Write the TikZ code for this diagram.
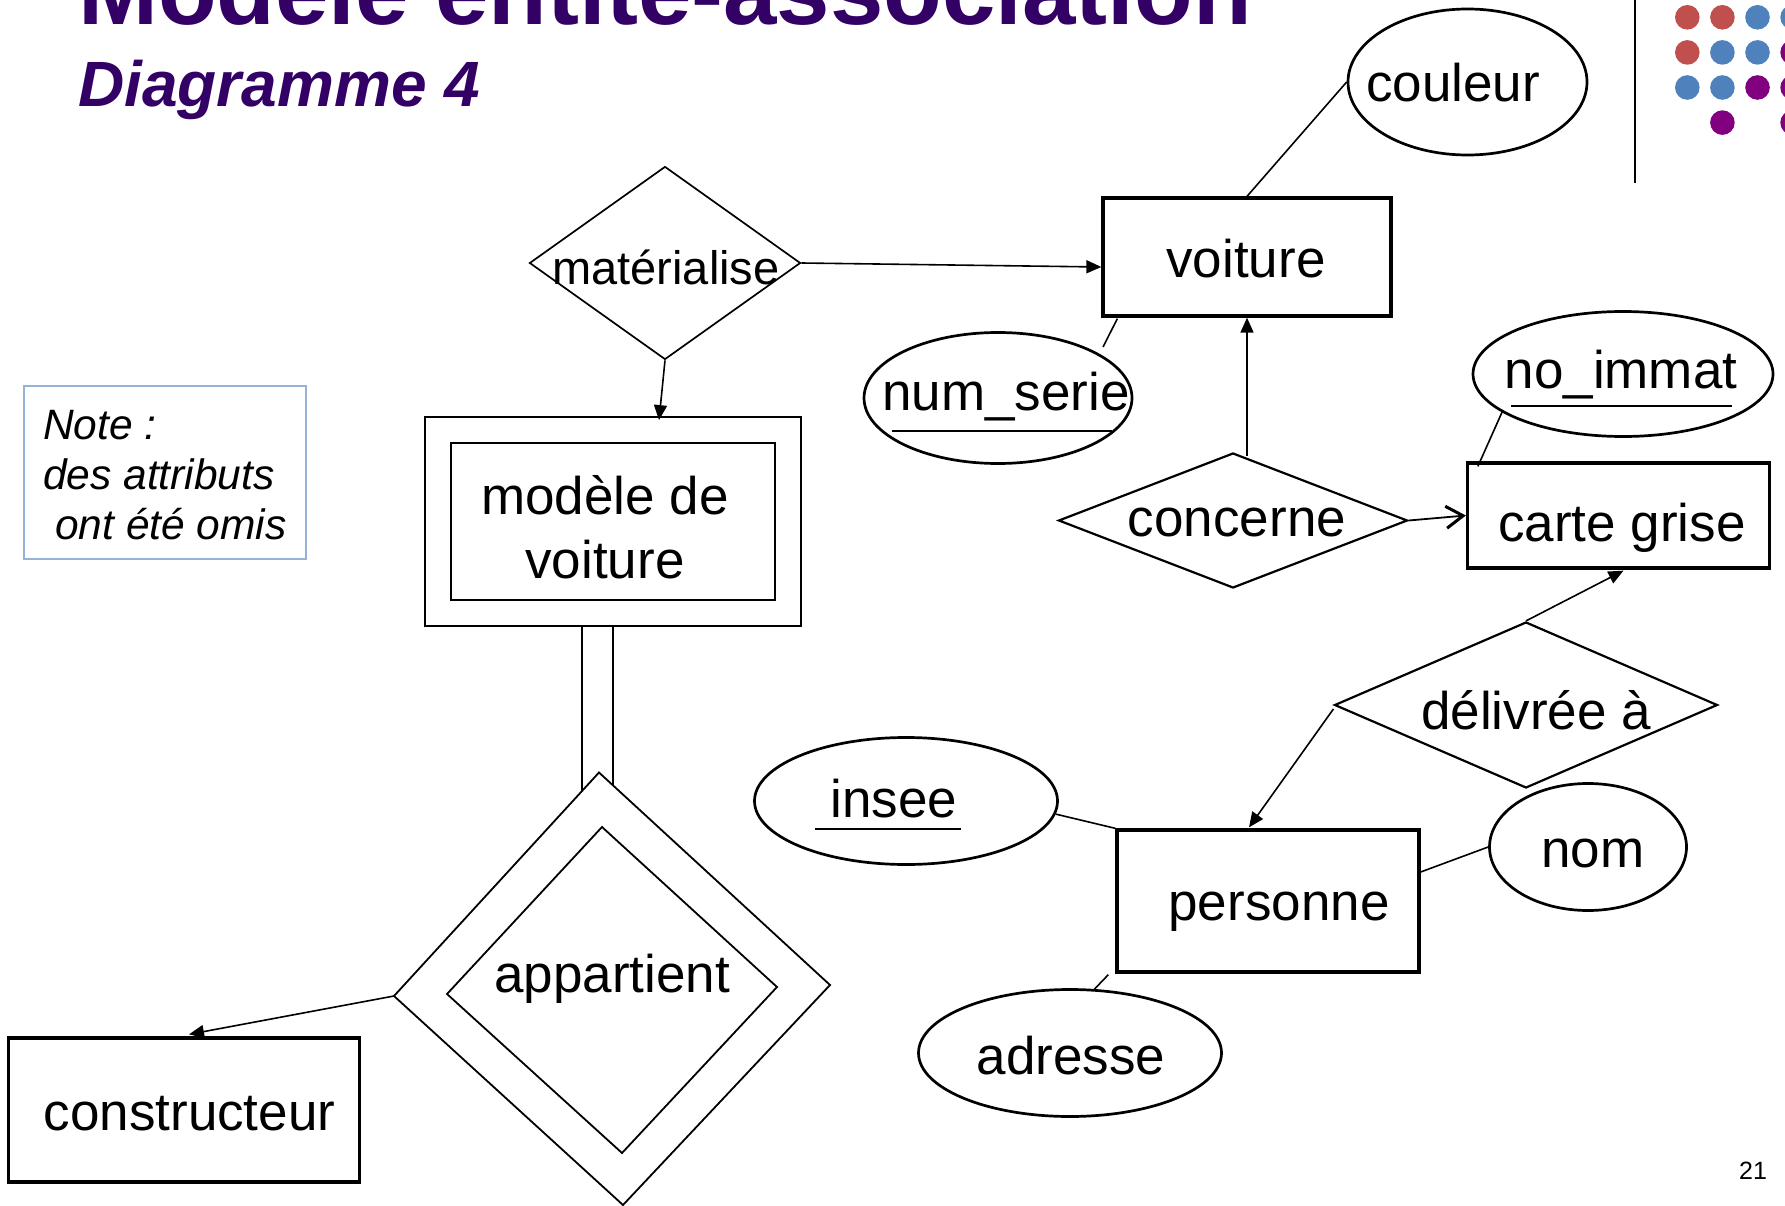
\documentclass[tikz,border=0pt]{standalone}
\usepackage{fontspec}
\setmainfont{Liberation Sans}
\usetikzlibrary{shapes.geometric,arrows.meta,calc}
\definecolor{titlepurple}{HTML}{330066}
\definecolor{dotred}{HTML}{C0504D}
\definecolor{dotblue}{HTML}{4F81BD}
\definecolor{dotpurple}{HTML}{800080}
\definecolor{noteblue}{HTML}{95B3D7}
\begin{document}
\begin{tikzpicture}[x=1pt,y=-1pt,
  lbl/.style={anchor=base,inner sep=0pt,font=\fontsize{53}{60}\selectfont},
  notetext/.style={anchor=base west,inner sep=0pt,font=\fontsize{42.5}{48}\selectfont\itshape},
  entity/.style={draw,rectangle,line width=3.3pt,inner sep=0pt},
  attr/.style={draw,ellipse,line width=2.7pt,inner sep=0pt},
  rel/.style={draw,diamond,inner sep=0pt,line width=2.2pt},
  link/.style={line width=1.6pt},
  ulink/.style={line width=2pt},
  arr/.style={line width=1.6pt,-{Triangle[length=15pt,width=13pt]}},
  openarr/.style={line width=1.8pt,-{Straight Barb[length=17pt,width=22pt,line width=3pt]}}
]
\useasboundingbox (0,0) rectangle (1785,1206);

% heading
\node[anchor=base west,inner sep=0pt,text=titlepurple,
      font=\fontsize{96}{100}\selectfont\bfseries] (title) at (78,25) {Modèle entité-association};
\node[anchor=base west,inner sep=0pt,text=titlepurple,
      font=\fontsize{64}{70}\selectfont\bfseries\itshape] (subtitle) at (78,107) {Diagramme 4};

% decorative corner: rule and dot grid
\draw[line width=2.5pt] (1635,0) -- (1635,183);
\foreach \c/\i/\j in {dotred/0/0, dotred/1/0, dotblue/2/0, dotblue/3/0,
                      dotred/0/1, dotblue/1/1, dotblue/2/1, dotpurple/3/1,
                      dotblue/0/2, dotblue/1/2, dotpurple/2/2, dotpurple/3/2,
                      dotpurple/1/3, dotpurple/3/3}
  \fill[\c] (1687.3+35.1*\i, 17.3+35.1*\j) circle[radius=12.3pt];

% note box
\node[draw=noteblue,line width=1.5pt,inner sep=0pt,minimum width=282pt,minimum height=173pt] (note) at (165,472.5) {};
\node[notetext] (note1) at (43,439) {Note :};
\node[notetext] (note2) at (43,489) {des attributs};
\node[notetext] (note3) at (55,539) {ont été omis};

% entities
\node[entity,minimum width=288pt,minimum height=118pt] (voit) at (1247,257) {};
\node[lbl] (voit-t) at (1246,278) {voiture};
\node[entity,minimum width=302pt,minimum height=105pt] (carte) at (1618.5,515.5) {};
\node[lbl] (carte-t) at (1622,541) {carte grise};
\node[entity,minimum width=302pt,minimum height=142pt] (pers) at (1268,901) {};
\node[lbl] (pers-t) at (1279,920) {personne};
\node[entity,minimum width=351pt,minimum height=144pt] (cons) at (184,1110) {};
\node[lbl] (cons-t) at (189.5,1130) {constructeur};

% weak entity
\node[draw,line width=1.8pt,inner sep=0pt,minimum width=376pt,minimum height=209pt] (modo) at (613,521.5) {};
\node[draw,line width=1.8pt,inner sep=0pt,minimum width=324pt,minimum height=157pt] (modi) at (613,521.5) {};
\node[lbl] (modi-t1) at (605,514) {modèle de};
\node[lbl] (modi-t2) at (605,578) {voiture};

% attributes
\node[attr,minimum width=239pt,minimum height=146pt] (coul) at (1467.5,82) {};
\node[lbl] (coul-t) at (1453,102) {couleur};
\node[attr,minimum width=268pt,minimum height=131pt] (ns) at (998,398) {};
\node[lbl] (ns-t) at (1006,410) {num\_serie};
\draw[ulink] (892,431) -- (1111.5,431);
\node[attr,minimum width=300pt,minimum height=125pt] (ni) at (1623,374) {};
\node[lbl] (ni-t) at (1621,388) {no\_immat};
\draw[ulink] (1511,406) -- (1732,406);
\node[attr,minimum width=303pt,minimum height=127pt] (insee) at (906,801) {};
\node[lbl] (insee-t) at (894,817) {insee};
\draw[ulink] (815,829) -- (961,829);
\node[attr,minimum width=197pt,minimum height=127pt] (nom) at (1588,847) {};
\node[lbl] (nom-t) at (1593,867) {nom};
\node[attr,minimum width=303pt,minimum height=127pt] (adr) at (1070,1053) {};
\node[lbl] (adr-t) at (1071,1074) {adresse};

% relationships
\node[rel,line width=1.7pt,minimum width=271pt,minimum height=193pt] (mat) at (665,263) {};
\node[lbl,font=\fontsize{47}{54}\selectfont] (mat-t) at (666,284) {matérialise};
\node[rel,minimum width=349pt,minimum height=135pt] (conc) at (1233,520.5) {};
\node[lbl] (conc-t) at (1237,536) {concerne};
\node[rel,minimum width=383pt,minimum height=166pt] (deliv) at (1526,705) {};
\node[lbl] (deliv-t) at (1536,729) {délivrée à};

% identifying relationship (tilted double diamond)
\coordinate (apo-t) at (599,772.5);
\coordinate (apo-r) at (830,985);
\coordinate (apo-b) at (623,1205);
\coordinate (apo-l) at (394,996);
\coordinate (api-t) at (602,827);
\coordinate (api-r) at (777,987);
\coordinate (api-b) at (622,1153);
\coordinate (api-l) at (447,994);
\draw[line width=1.8pt,line join=miter] (apo-t) -- (apo-r) -- (apo-b) -- (apo-l) -- cycle;
\draw[line width=1.8pt,line join=miter] (api-t) -- (api-r) -- (api-b) -- (api-l) -- cycle;
\node[lbl] (ap-t) at (612,992) {appartient};

% connectors
\draw[link] (voit.north) -- (coul.west);
\draw[arr] (mat.east) -- ($(voit.west)+(0,10)$);
\draw[arr] (mat.south) -- ($(modo.north)+(46,4)$);
\draw[link] ($(modo.south)+(-31,0)$) -- ($(apo-t)!0.083!(apo-l)$);
\draw[link] (modo.south) -- ($(apo-t)!0.0606!(apo-r)$);
\draw[arr] (apo-l) -- ($(cons.north)+(5,-2)$);
\draw[link] ($(ns.center)+(105,-51)$) -- ($(voit.south west)+(16,1)$);
\draw[arr] ($(conc.north -| voit.south)+(0,4)$) -- (voit.south);
\draw[openarr] (conc.east) -- (carte.west);
\draw[link] ($(ni.center)+(-120,36)$) -- ($(carte.north west)+(12,5)$);
\draw[arr] (deliv.north) -- ($(carte.south)+(5,1)$);
\draw[arr] ($(deliv.west)+(0,4)$) -- ($(pers.north)+(-19,-1)$);
\draw[link] (insee.-5) -- (pers.north west);
\draw[link] (nom.west) -- ($(pers.east)+(0,-29)$);
\draw[link] (adr.69) -- ($(pers.south west)+(-7,1)$);

% slide number
\node[anchor=base west,inner sep=0pt,font=\fontsize{25}{28}\selectfont] (pageno) at (1739,1179) {21};
\end{tikzpicture}
\end{document}
